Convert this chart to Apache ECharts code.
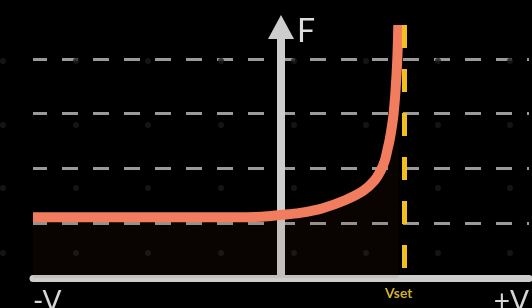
<!DOCTYPE html>
<html>
<head>
<meta charset="utf-8">
<title>F - V</title>
<script src="https://cdn.jsdelivr.net/npm/echarts@6/dist/echarts.min.js"></script>
<style>
    html, body { margin: 0; padding: 0; background: #000; }
    #chart { width: 532px; height: 308px; }
</style>
</head>
<body>
<div id="chart"></div>
<script>
// x: -10 .. 10 对应 -V .. +V, y: 一格一条虚线
var curveX = [-10, -5.28, -2.06, -0.77, -0.04, 0.77, 1.65, 2.58, 3.31, 3.75, 4.03, 4.19, 4.29, 4.38, 4.47, 4.54, 4.62, 4.69, 4.73];
var curveY = [1.11, 1.11, 1.11, 1.12, 1.15, 1.19, 1.27, 1.42, 1.59, 1.77, 1.97, 2.15, 2.34, 2.52, 2.76, 3.00, 3.43, 4.00, 4.62];
var vset = 4.95;
var xMin = -10, xMax = 10;
var yMin = 0, yMax = 4.62;
var xLabels = ['-V', '+V'];
var yName = 'F';
var vsetLabel = 'Vset';

// 背景上的暗点 (整张图的坐标)
var dotCols = [3, 76, 148, 221, 294, 366, 438, 510];
var dotRows = [-2, 61, 125, 188, 253];

var curveData = [];
for (var i = 0; i < curveX.length; i++) {
    curveData.push([curveX[i], curveY[i]]);
}
var dotData = [];
for (var r = 0; r < dotRows.length; r++) {
    for (var c = 0; c < dotCols.length; c++) {
        dotData.push([dotCols[c], dotRows[r]]);
    }
}

var axisGray = '#cdcdcd';
var font = 'Lato, "Open Sans", sans-serif';

var chart = echarts.init(document.getElementById('chart'), null, {renderer: 'canvas'});
chart.setOption({
    backgroundColor: '#000',
    animation: false,
    grid: [
        {left: 33, right: 3, top: 25, bottom: 30, outerBoundsMode: 'none', containLabel: false},
        {left: 0, right: 0, top: 0, bottom: 0, outerBoundsMode: 'none'}
    ],
    xAxis: [{
        type: 'value',
        min: xMin,
        max: xMax,
        axisLine: {show: true, lineStyle: {color: axisGray, width: 7}},
        axisTick: {show: false},
        splitLine: {show: false},
        axisLabel: {
            customValues: [xMin, xMax],
            alignMinLabel: 'left',
            alignMaxLabel: 'right',
            margin: 10,
            color: '#d6d6d6',
            fontFamily: font,
            fontSize: 28,
            verticalAlign: 'top',
            formatter: function (v) {
                return v === xMin ? xLabels[0] : xLabels[1];
            }
        }
    }, {
        type: 'value', gridIndex: 1, min: 0, max: 532, show: false
    }],
    yAxis: [{
        type: 'value',
        min: yMin,
        max: yMax,
        interval: 1,
        name: yName,
        nameLocation: 'end',
        nameGap: -7,
        nameTextStyle: {
            color: '#dcdcdc',
            fontFamily: font,
            fontSize: 32,
            align: 'left',
            verticalAlign: 'middle',
            padding: [0, 0, 0, 16]
        },
        axisLine: {
            show: true,
            symbol: ['none', 'triangle'],
            symbolSize: [26, 24],
            symbolOffset: [0, -2],
            lineStyle: {color: axisGray, width: 8}
        },
        axisTick: {show: false},
        axisLabel: {show: false},
        splitLine: {
            show: true,
            showMinLine: false,
            showMaxLine: false,
            lineStyle: {color: '#9a9a9a', width: 3, type: [16, 15], dashOffset: 2}
        }
    }, {
        type: 'value', gridIndex: 1, min: 0, max: 308, inverse: true, show: false
    }],
    series: [{
        type: 'scatter',
        xAxisIndex: 1,
        yAxisIndex: 1,
        z: 0,
        silent: true,
        symbolSize: 6,
        itemStyle: {color: '#1a1a1a'},
        data: dotData
    }, {
        type: 'line',
        data: curveData,
        smooth: 0.35,
        showSymbol: false,
        silent: true,
        lineStyle: {color: '#f27d5e', width: 10, type: 'solid', cap: 'butt', join: 'round'},
        areaStyle: {color: 'rgba(110, 40, 20, 0.12)', origin: 'start'},
        markLine: {
            silent: true,
            symbol: ['none', 'none'],
            lineStyle: {color: '#f2c01c', width: 5, type: [23, 21]},
            label: {
                show: true,
                position: 'end',
                distance: 8,
                formatter: vsetLabel,
                color: '#d2b12a',
                fontFamily: font,
                fontSize: 14,
                fontWeight: 'bold',
                padding: [0, 10, 0, 0]
            },
            data: [[{coord: [vset, yMax]}, {coord: [vset, yMin]}]]
        }
    }]
});
</script>
</body>
</html>
